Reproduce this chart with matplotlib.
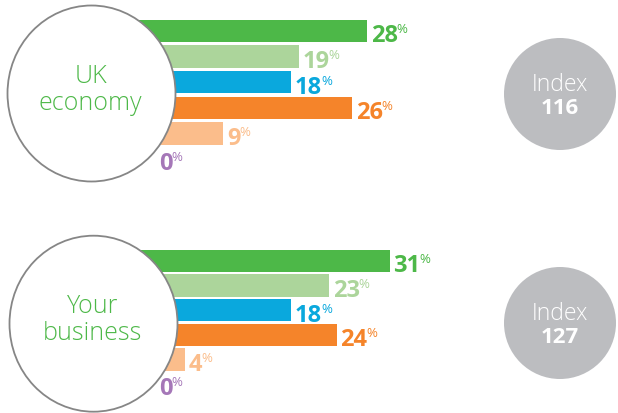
import matplotlib

matplotlib.use("Agg")
import matplotlib.pyplot as plt
from matplotlib.patches import Circle, Ellipse

plt.rcParams["font.family"] = ["Open Sans", "DejaVu Sans"]

# ---------------------------------------------------------------------------
# data
# ---------------------------------------------------------------------------
PANEL_LABELS = ["UK\neconomy", "Your\nbusiness"]
UK_ECONOMY = [28, 19, 18, 26, 9, 0]
YOUR_BUSINESS = [31, 23, 18, 24, 4, 0]
INDEX_VALUES = [116, 127]

BAR_COLORS = ["#4db848", "#acd59b", "#0aa8dd", "#f5842a", "#fbbd8b", "#a577b8"]
LABEL_GREEN = "#4db848"
INDEX_GREY = "#bcbdc0"

# ---------------------------------------------------------------------------
# layout (pixels)
# ---------------------------------------------------------------------------
W, H = 618, 414
PX_PER_PCT = 7.57
ZERO_PX = 155
BAR_START = -3  # bars run on under the circle
PANEL_ROWS = [(32, 25.6), (262, 24.6)]          # first row centre, row pitch
LABEL_CIRCLES = [(91.5, 94.5), (93.5, 324.7)]
INDEX_CIRCLES = [(560, 95), (560, 324)]


def draw_panel(fig, values, first_row, pitch):
    n = len(values)
    top_px = first_row - pitch / 2
    h_px = n * pitch
    ax = fig.add_axes([0, (H - top_px - h_px) / H, 1, h_px / H])
    ax.set_xlim(-ZERO_PX / PX_PER_PCT, (W - ZERO_PX) / PX_PER_PCT)
    ax.set_ylim(n - 0.5, -0.5)
    ax.axis("off")

    rows = list(range(n))
    # a 0 % row gets no bar at all
    widths = [v - BAR_START if v > 0 else 0 for v in values]
    ax.barh(rows, widths, left=BAR_START, height=22.5 / pitch, color=BAR_COLORS)

    for i, v in enumerate(values):
        t = ax.text(v + 0.5, i + 10.5 / pitch, f"{v}", color=BAR_COLORS[i],
                    fontsize=17, fontweight="bold", va="baseline", ha="left")
        ax.annotate("%", xy=(1, 1), xycoords=t, xytext=(-0.8, 0.8),
                    textcoords="offset points", fontsize=9.5,
                    color=BAR_COLORS[i], va="top", ha="left")


def main() -> None:
    fig = plt.figure(figsize=(W / 100, H / 100), dpi=100)
    fig.patch.set_facecolor("white")

    for values, (first_row, pitch) in zip([UK_ECONOMY, YOUR_BUSINESS], PANEL_ROWS):
        draw_panel(fig, values, first_row, pitch)

    # overlay in pixel coords for the circles
    ov = fig.add_axes([0, 0, 1, 1])
    ov.set_xlim(0, W)
    ov.set_ylim(H, 0)
    ov.axis("off")

    for label, (cx, cy) in zip(PANEL_LABELS, LABEL_CIRCLES):
        ov.add_patch(Ellipse((cx, cy), 168, 176, facecolor="white",
                             edgecolor="#868686", linewidth=1.3))
        line1, line2 = label.split("\n")
        ov.text(cx - 1, cy - 11.5, line1, color=LABEL_GREEN, fontsize=18,
                fontweight="light", ha="center", va="baseline")
        ov.text(cx - 1, cy + 15.5, line2, color=LABEL_GREEN, fontsize=18,
                fontweight="light", ha="center", va="baseline")

    for idx, (cx, cy) in zip(INDEX_VALUES, INDEX_CIRCLES):
        ov.add_patch(Circle((cx, cy), 56, facecolor=INDEX_GREY, edgecolor="none"))
        ov.text(cx, cy - 4, "Index", color="white", fontsize=16.5,
                fontweight="light", ha="center", va="baseline")
        ov.text(cx, cy + 19, f"{idx}", color="white", fontsize=16,
                fontweight="bold", ha="center", va="baseline")

    fig.savefig("out.png", dpi=100)
    plt.close(fig)


if __name__ == "__main__":
    main()
